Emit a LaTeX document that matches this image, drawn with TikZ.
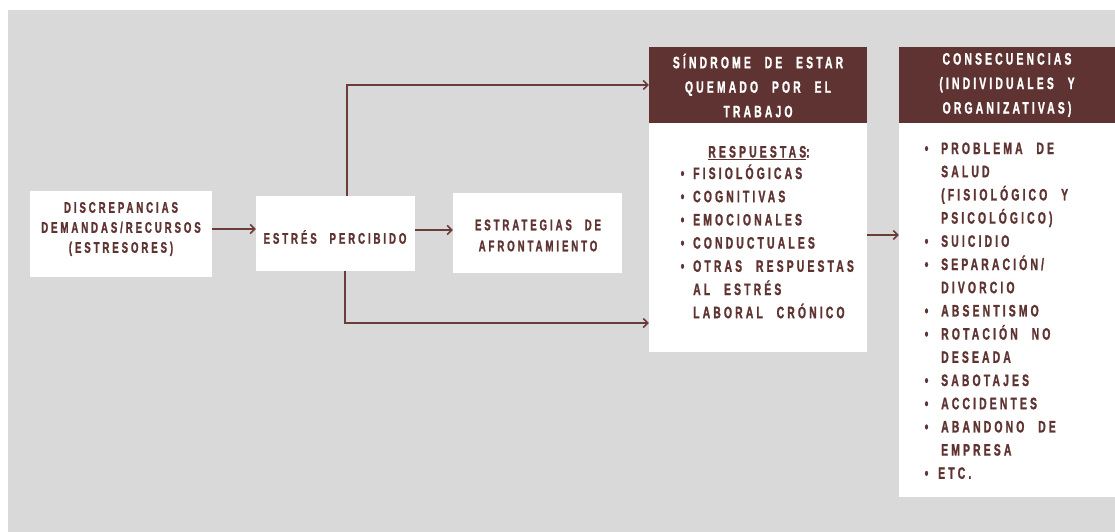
\documentclass[tikz,border=0pt]{standalone}
\usepackage{fontspec}
\usetikzlibrary{arrows.meta}
\newfontfamily\bebas[FakeStretch=0.63, LetterSpace=19, WordSpace=2.3, FakeBold=1.2]{Liberation Sans}
\definecolor{bgray}{HTML}{D9D9D9}
\definecolor{maroon}{HTML}{5E3331}
\definecolor{txtc}{HTML}{5E3331}
\definecolor{lnc}{HTML}{6B3C3A}
\tikzset{
  wbox/.style={draw=none, fill=white, inner sep=0pt},
  hbox/.style={draw=none, fill=maroon, inner sep=0pt},
  smalltxt/.style={text=txtc, align=center, inner sep=0pt, font=\bebas\bfseries\fontsize{15.3}{20}\selectfont},
  bigtxt/.style={text=txtc, inner sep=0pt, font=\bebas\bfseries\fontsize{16.5}{23.2}\selectfont},
  headtxt/.style={text=white, align=center, inner sep=0pt, font=\bebas\bfseries\fontsize{16.5}{24.5}\selectfont},
  arr/.style={draw=lnc, line width=1.7pt, -{Straight Barb[length=4.5pt,width=9pt,line width=1.5pt]}},
}
\begin{document}
\begin{tikzpicture}[x=1pt,y=-1pt]
\useasboundingbox (0,0) rectangle (1115,532);
\fill[white] (0,0) rectangle (1115,532);
\fill[bgray] (8,10) rectangle (1115,532);

% boxes
\node[wbox, minimum width=182pt, minimum height=86pt] (b1) at (121,234) {};
\node[wbox, minimum width=159pt, minimum height=75pt] (b2) at (335.5,233.5) {};
\node[wbox, minimum width=169pt, minimum height=80pt] (b3) at (537.5,233) {};
\node[hbox, minimum width=218pt, minimum height=76pt] (h4) at (758,85) {};
\node[wbox, minimum width=218pt, minimum height=229pt] (w4) at (758,237.5) {};
\node[hbox, minimum width=216pt, minimum height=76pt] (h5) at (1007,85) {};
\node[wbox, minimum width=216pt, minimum height=374pt] (w5) at (1007,310) {};

% texts
\node[smalltxt] (t1) at (121,229) {DISCREPANCIAS\\DEMANDAS/RECURSOS\\(ESTRESORES)};
\node[smalltxt] (t2) at (335,237) {ESTRÉS PERCIBIDO};
\node[smalltxt, font=\bebas\bfseries\fontsize{15.3}{21}\selectfont] (t3) at (538,235.5) {ESTRATEGIAS DE\\AFRONTAMIENTO};
\node[headtxt] (th4) at (758,85.5) {SÍNDROME DE ESTAR\\QUEMADO POR EL\\TRABAJO};
\node[headtxt] (th5) at (1007,85) {CONSECUENCIAS\\(INDIVIDUALES Y\\ORGANIZATIVAS)};
\node[bigtxt, anchor=base] (tr) at (759,157.5) {\underline{RESPUESTAS}:};
\node[bigtxt, anchor=base west] (l4) at (680.5,179) {\begin{tabular}[t]{@{}l@{}}
\makebox[12.5pt][l]{•}FISIOLÓGICAS\\
\makebox[12.5pt][l]{•}COGNITIVAS\\
\makebox[12.5pt][l]{•}EMOCIONALES\\
\makebox[12.5pt][l]{•}CONDUCTUALES\\
\makebox[12.5pt][l]{•}OTRAS RESPUESTAS\\
\makebox[12.5pt][l]{}AL ESTRÉS\\
\makebox[12.5pt][l]{}LABORAL CRÓNICO
\end{tabular}};
\node[bigtxt, anchor=base west] (l5) at (924.5,154) {\begin{tabular}[t]{@{}l@{}}
\makebox[16.5pt][l]{•}PROBLEMA DE\\
\makebox[16.5pt][l]{}SALUD\\
\makebox[16.5pt][l]{}(FISIOLÓGICO Y\\
\makebox[16.5pt][l]{}PSICOLÓGICO)\\
\makebox[16.5pt][l]{•}SUICIDIO\\
\makebox[16.5pt][l]{•}SEPARACIÓN/\\
\makebox[16.5pt][l]{}DIVORCIO\\
\makebox[16.5pt][l]{•}ABSENTISMO\\
\makebox[16.5pt][l]{•}ROTACIÓN NO\\
\makebox[16.5pt][l]{}DESEADA\\
\makebox[16.5pt][l]{•}SABOTAJES\\
\makebox[16.5pt][l]{•}ACCIDENTES\\
\makebox[16.5pt][l]{•}ABANDONO DE\\
\makebox[16.5pt][l]{}EMPRESA\\
\makebox[13.5pt][l]{•}ETC.
\end{tabular}};

% connectors
\coordinate (ya) at (0,229);
\coordinate (yb) at (0,230);
\coordinate (yc) at (0,323);
\coordinate (yd) at (0,235);
\draw[arr] (b1.east |- ya) -- (b2.west |- ya);
\draw[arr] (b2.east |- yb) -- (b3.west |- yb);
\draw[arr] ([xshift=11.5pt]b2.north) |- (h4.west);
\draw[arr] ([xshift=9.5pt]b2.south) |- (w4.west |- yc);
\draw[arr] (w4.east |- yd) -- (w5.west |- yd);
\end{tikzpicture}
\end{document}
